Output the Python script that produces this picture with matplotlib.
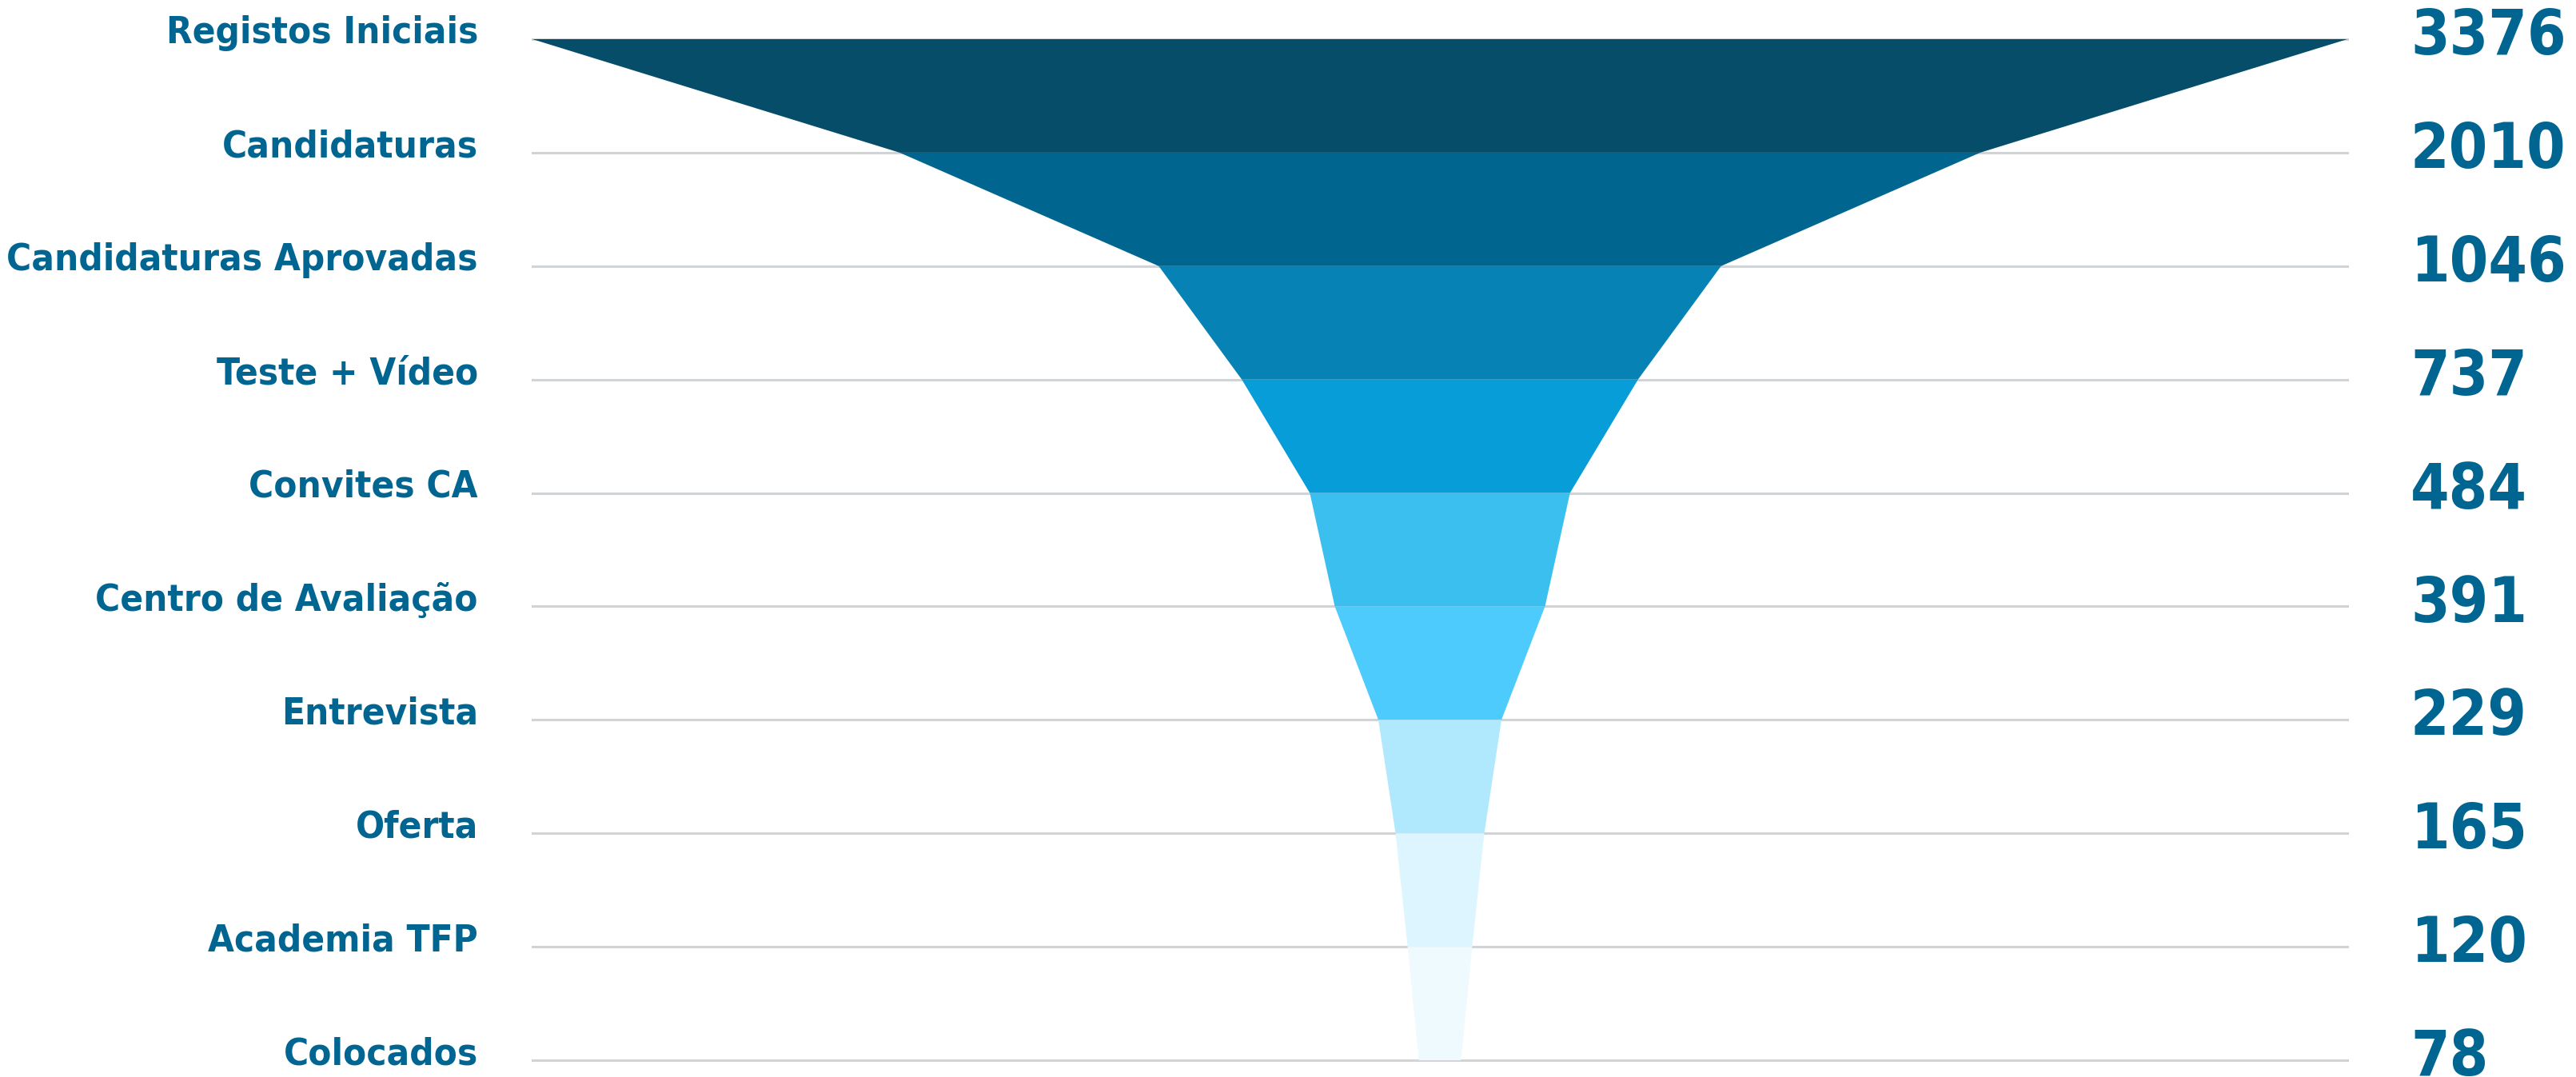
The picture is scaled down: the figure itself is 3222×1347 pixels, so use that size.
"""Recruitment funnel: stage counts drawn as stacked trapezoids."""

import matplotlib
matplotlib.use("Agg")
import matplotlib.pyplot as plt
from matplotlib import font_manager
from matplotlib.transforms import blended_transform_factory

stages = [
    "Registos Iniciais", "Candidaturas", "Candidaturas Aprovadas",
    "Teste + Vídeo", "Convites CA", "Centro de Avaliação",
    "Entrevista", "Oferta", "Academia TFP", "Colocados",
]
counts = [3376, 2010, 1046, 737, 484, 391, 229, 165, 120, 78]
colors = [
    "#054d69", "#006690", "#0782b4", "#069dd8", "#3bbfef",
    "#4dcbfd", "#b0e9fe", "#dcf5fe", "#eefafe",
]

TEXT_COLOR = "#006591"
GRID_COLOR = "#d0d4d7"

print(sorted({f.name for f in font_manager.fontManager.ttflist}))
print([f.fname for f in font_manager.fontManager.ttflist if "DejaVu" in f.name])

W, H = 3223, 1347
fig = plt.figure(figsize=(W / 100, H / 100), dpi=100)
left, right = 666 / W, 2936 / W
top, bottom = 49 / H, 1326 / H
ax = fig.add_axes([left, 1 - bottom, right - left, bottom - top])

half = counts[0] / 2
ax.set_xlim(-half, half)
ax.set_ylim(len(counts) - 1, 0)
ax.axis("off")

for i in range(len(counts)):
    ax.axhline(i, color=GRID_COLOR, lw=2.2, zorder=1, clip_on=False)

for i in range(len(counts) - 1):
    a, b = counts[i] / 2, counts[i + 1] / 2
    ax.fill([-a, a, b, -b], [i, i, i + 1, i + 1], color=colors[i],
            lw=0, zorder=2, clip_on=False)

trans = blended_transform_factory(fig.transFigure, ax.transData)
for i, (name, n) in enumerate(zip(stages, counts)):
    ax.text(598 / W, i - 0.05, name, transform=trans, ha="right", va="center",
            color=TEXT_COLOR, fontsize=34, fontweight="bold",
            fontstretch="condensed", family="DejaVu Sans")
    ax.text(3015 / W, i - 0.02, str(n), transform=trans, ha="left", va="center",
            color=TEXT_COLOR, fontsize=56, fontweight="bold",
            fontstretch="condensed", family="DejaVu Sans")

fig.savefig("out.png", dpi=100, facecolor="white")
plt.close(fig)
